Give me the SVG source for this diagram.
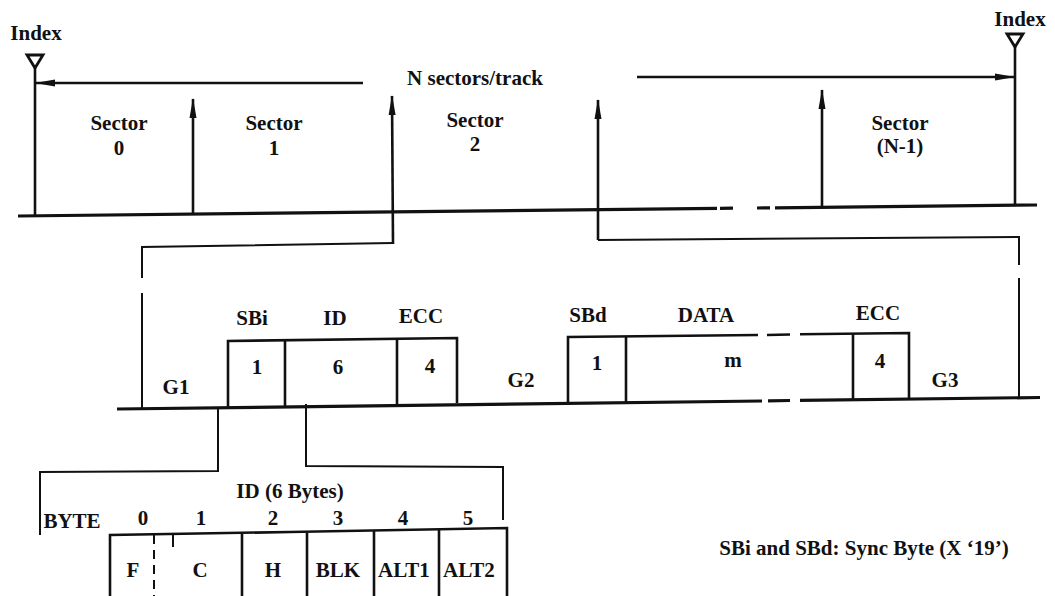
<svg xmlns="http://www.w3.org/2000/svg" width="1055" height="596" viewBox="0 0 1055 596">
<style>
text{font-family:"Liberation Serif","Times New Roman",serif;font-size:21px;font-weight:bold;fill:#111;text-anchor:middle}
.thick{stroke:#111;stroke-width:3.2;fill:none}
.med{stroke:#111;stroke-width:2.6;fill:none}
.thin{stroke:#111;stroke-width:2;fill:none}
.tri{stroke:#111;stroke-width:2.8;fill:none;stroke-linejoin:miter}
</style>
<defs>
<marker id="ah" viewBox="0 0 20 8" refX="19" refY="4" markerWidth="20" markerHeight="8" markerUnits="userSpaceOnUse" orient="auto">
<path d="M0,0.5 L20,4 L0,7.5 z" fill="#111"/>
</marker>
</defs>
<rect width="1055" height="596" fill="#fff"/>

<g id="index-left">
<text x="36" y="40">Index</text>
<polygon class="tri" points="27,55 43,55 35,68"/>
<line class="med" x1="35" y1="68" x2="35" y2="215"/>
</g>
<g id="index-right">
<text x="1020" y="26">Index</text>
<polygon class="tri" points="1007,34 1023,34 1015,47"/>
<line class="med" x1="1015" y1="47" x2="1015" y2="206"/>
</g>

<g id="n-sectors">
<text x="475" y="85">N sectors/track</text>
</g>

<g id="sector-labels">
<text x="119" y="130">Sector</text><text x="119" y="155">0</text>
<text x="274" y="130">Sector</text><text x="274" y="155">1</text>
<text x="475" y="127">Sector</text><text x="475" y="151">2</text>
<text x="900" y="130">Sector</text><text x="900" y="153">(N-1)</text>
</g>

<g id="track">
<line class="thick" x1="18" y1="216" x2="717" y2="208.4"/>
<line class="thick" x1="720" y1="208.3" x2="733" y2="208.2"/>
<line class="thick" x1="757" y1="208" x2="770" y2="207.9"/>
<line class="thick" x1="775" y1="207.8" x2="1037" y2="205"/>
</g>

<g id="record">
<line class="thick" x1="117" y1="409" x2="762" y2="401"/>
<line class="thick" x1="768" y1="400.8" x2="790" y2="400.5"/>
<line class="thick" x1="800" y1="400.4" x2="1040" y2="397.5"/>
<polyline class="med" points="228,407 228,341 457,338 457,403"/>
<line class="med" x1="285" y1="340" x2="285" y2="406"/>
<line class="med" x1="397" y1="339" x2="397" y2="405"/>
<polyline class="med" points="568,403 568,337 758,335"/>
<line class="med" x1="767" y1="335" x2="790" y2="334.5"/>
<polyline class="med" points="800,334.3 909,333 909,399"/>
<line class="med" x1="626" y1="337" x2="626" y2="402"/>
<line class="med" x1="853" y1="334" x2="853" y2="400"/>
<text x="252" y="325">SBi</text>
<text x="335" y="325">ID</text>
<text x="421" y="323">ECC</text>
<text x="257" y="374">1</text>
<text x="338" y="374">6</text>
<text x="430" y="373">4</text>
<text x="176" y="394">G1</text>
<text x="521" y="387">G2</text>
<text x="588" y="322">SBd</text>
<text x="706" y="322">DATA</text>
<text x="878" y="320">ECC</text>
<text x="597" y="370">1</text>
<text x="733" y="367">m</text>
<text x="880" y="368">4</text>
<text x="945" y="387">G3</text>
</g>

<g id="id-field">
<text x="290" y="498">ID (6 Bytes)</text>
<text x="72" y="528">BYTE</text>
<text x="143" y="525">0</text>
<text x="201" y="525">1</text>
<text x="273" y="525">2</text>
<text x="338" y="525">3</text>
<text x="403" y="525">4</text>
<text x="468" y="525">5</text>
<polyline class="med" points="110,600 110,535 290,532 507,528 507,600"/>
<line class="thin" x1="154" y1="535" x2="154" y2="600" stroke-dasharray="9,6"/>
<line class="thin" x1="173" y1="534" x2="173" y2="547"/>
<line class="med" x1="242" y1="533" x2="242" y2="600"/>
<line class="med" x1="307" y1="532" x2="307" y2="600"/>
<line class="med" x1="374" y1="531" x2="374" y2="600"/>
<line class="med" x1="439" y1="529" x2="439" y2="600"/>
<text x="133" y="577">F</text>
<text x="200" y="577">C</text>
<text x="273" y="577">H</text>
<text x="338" y="577">BLK</text>
<text x="404" y="577">ALT1</text>
<text x="469" y="577">ALT2</text>
</g>

<g id="legend">
<text x="864" y="555">SBi and SBd:  Sync Byte (X ‘19’)</text>
</g>

<g id="connectors">
<line class="med" x1="363" y1="83" x2="36" y2="83" marker-end="url(#ah)"/>
<line class="med" x1="637" y1="77" x2="1014" y2="77" marker-end="url(#ah)"/>
<line class="med" x1="193" y1="214" x2="193" y2="99" marker-end="url(#ah)"/>
<line class="med" x1="393" y1="244" x2="392" y2="96" marker-end="url(#ah)"/>
<line class="med" x1="598" y1="240" x2="598" y2="100" marker-end="url(#ah)"/>
<line class="med" x1="822" y1="207" x2="822" y2="90" marker-end="url(#ah)"/>
<polyline class="thin" points="393,243 142,247 142,278"/>
<line class="thin" x1="142" y1="293" x2="142" y2="408"/>
<polyline class="thin" points="598,240 1019,237 1019,265"/>
<line class="thin" x1="1019" y1="278" x2="1019" y2="398"/>
<polyline class="thin" points="218,407 218,471 40,472 40,535"/>
<polyline class="thin" points="306,404 306,466 503,467 503,520"/>
</g>
</svg>
